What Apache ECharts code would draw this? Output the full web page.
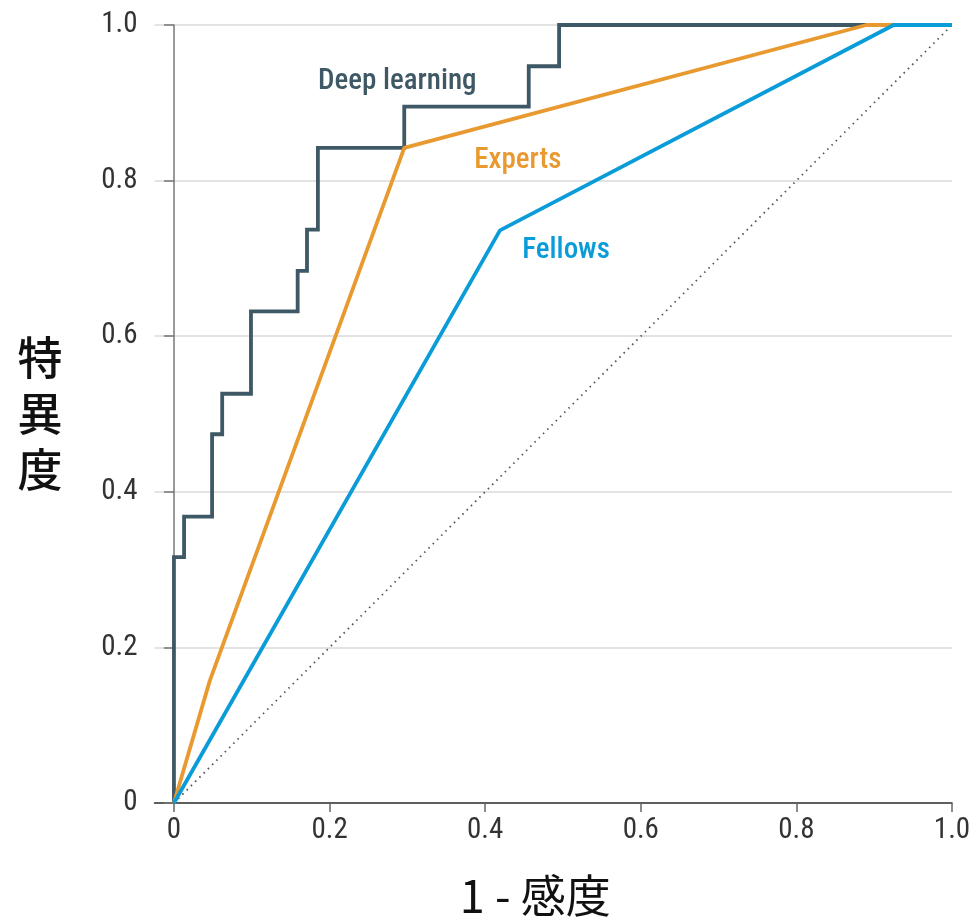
<!DOCTYPE html>
<html><head><meta charset="utf-8">
<script src="https://cdn.jsdelivr.net/npm/echarts@6/dist/echarts.min.js"></script>
<style>html,body{margin:0;padding:0;background:#fff}#c{width:976px;height:923px}</style>
</head><body><div id="c"></div>
<script>
// Deep learning ROC (1 - sensitivity, specificity) corners
const dlX = [0, 0, 0.013, 0.013, 0.049, 0.049, 0.062, 0.062, 0.099, 0.099, 0.159, 0.159, 0.171, 0.171, 0.185, 0.185, 0.296, 0.296, 0.456, 0.456, 0.495, 0.495, 1];
const dlY = [0, 0.316, 0.316, 0.368, 0.368, 0.474, 0.474, 0.526, 0.526, 0.632, 0.632, 0.684, 0.684, 0.737, 0.737, 0.842, 0.842, 0.895, 0.895, 0.947, 0.947, 1, 1];
const expX = [0, 0.046, 0.296, 0.89, 1];
const expY = [0, 0.157, 0.842, 1, 1];
const felX = [0, 0.419, 0.925, 1];
const felY = [0, 0.736, 1, 1];
const refX = [0, 1];
const refY = [0, 1];
const tickVals = [0, 0.2, 0.4, 0.6, 0.8, 1.0];
const seriesNames = ['Deep learning', 'Experts', 'Fellows'];

const zip = (a, b) => a.map((v, i) => [v, b[i]]);
const fmt = v => v === 0 ? '0' : v.toFixed(1);
const FONT = '"Roboto Condensed", "Liberation Sans Narrow", "DejaVu Sans Condensed", sans-serif';
const CJK = '"Noto Sans CJK JP", sans-serif';
const colors = ['#3e5865', '#e8992f', '#0a9cd8'];
const lbl = (i) => ({show: true, position: 'inside', formatter: seriesNames[i], color: colors[i], fontFamily: FONT, fontSize: 29, fontWeight: 500});

const chart = echarts.init(document.getElementById('c'), null, {renderer: 'canvas'});
chart.setOption({
  animation: false,
  grid: {left: 154.5, right: 24, top: 25, bottom: 118},
  xAxis: {
    type: 'value', min: -0.025, max: 1,
    name: '1 - 感度', nameLocation: 'middle', nameGap: 70,
    nameTextStyle: {fontFamily: CJK, fontSize: 45, fontWeight: 'normal', color: '#111', padding: [0, 36, 0, 0]},
    axisLine: {lineStyle: {color: '#333', width: 1.5}},
    axisTick: {show: true, customValues: tickVals, length: 9, lineStyle: {color: '#666', width: 1.5}},
    axisLabel: {customValues: tickVals, formatter: fmt, fontFamily: FONT, fontSize: 29, fontWeight: 'normal', color: '#333', margin: 13},
    splitLine: {show: false}
  },
  yAxis: {
    type: 'value', min: 0, max: 1, interval: 0.2,
    name: '特\n異\n度', nameLocation: 'middle', nameGap: 92, nameRotate: 0,
    nameTextStyle: {fontFamily: CJK, fontSize: 45, fontWeight: 500, color: '#111', lineHeight: 56, padding: [25, 0, 0, 0]},
    axisLine: {show: true, lineStyle: {color: '#777', width: 1.5}},
    axisTick: {show: true, length: 10, lineStyle: {color: '#777', width: 1.5}},
    axisLabel: {formatter: fmt, fontFamily: FONT, fontSize: 29, fontWeight: 'normal', color: '#333', margin: 17},
    splitLine: {show: true, lineStyle: {color: '#e3e3e3', width: 2}}
  },
  series: [
    {type: 'line', name: 'ref', data: zip(refX, refY), symbol: 'none', silent: true, z: 1,
     lineStyle: {color: '#555', width: 1.8, type: [1.5, 4.5]}},
    {type: 'line', name: seriesNames[0], data: zip(dlX, dlY), symbol: 'none', z: 2,
     lineStyle: {color: colors[0], width: 3.8, join: 'miter'},
     markPoint: {symbol: 'rect', symbolSize: 0, silent: true, data: [{coord: [0.287, 0.927], label: lbl(0)}]}},
    {type: 'line', name: seriesNames[1], data: zip(expX, expY), symbol: 'none', z: 3,
     lineStyle: {color: colors[1], width: 3.8},
     markPoint: {symbol: 'rect', symbolSize: 0, silent: true, data: [{coord: [0.442, 0.826], label: lbl(1)}]}},
    {type: 'line', name: seriesNames[2], data: zip(felX, felY), symbol: 'none', z: 4,
     lineStyle: {color: colors[2], width: 3.8},
     markPoint: {symbol: 'rect', symbolSize: 0, silent: true, data: [{coord: [0.504, 0.71], label: lbl(2)}]}}
  ]
});
</script></body></html>
